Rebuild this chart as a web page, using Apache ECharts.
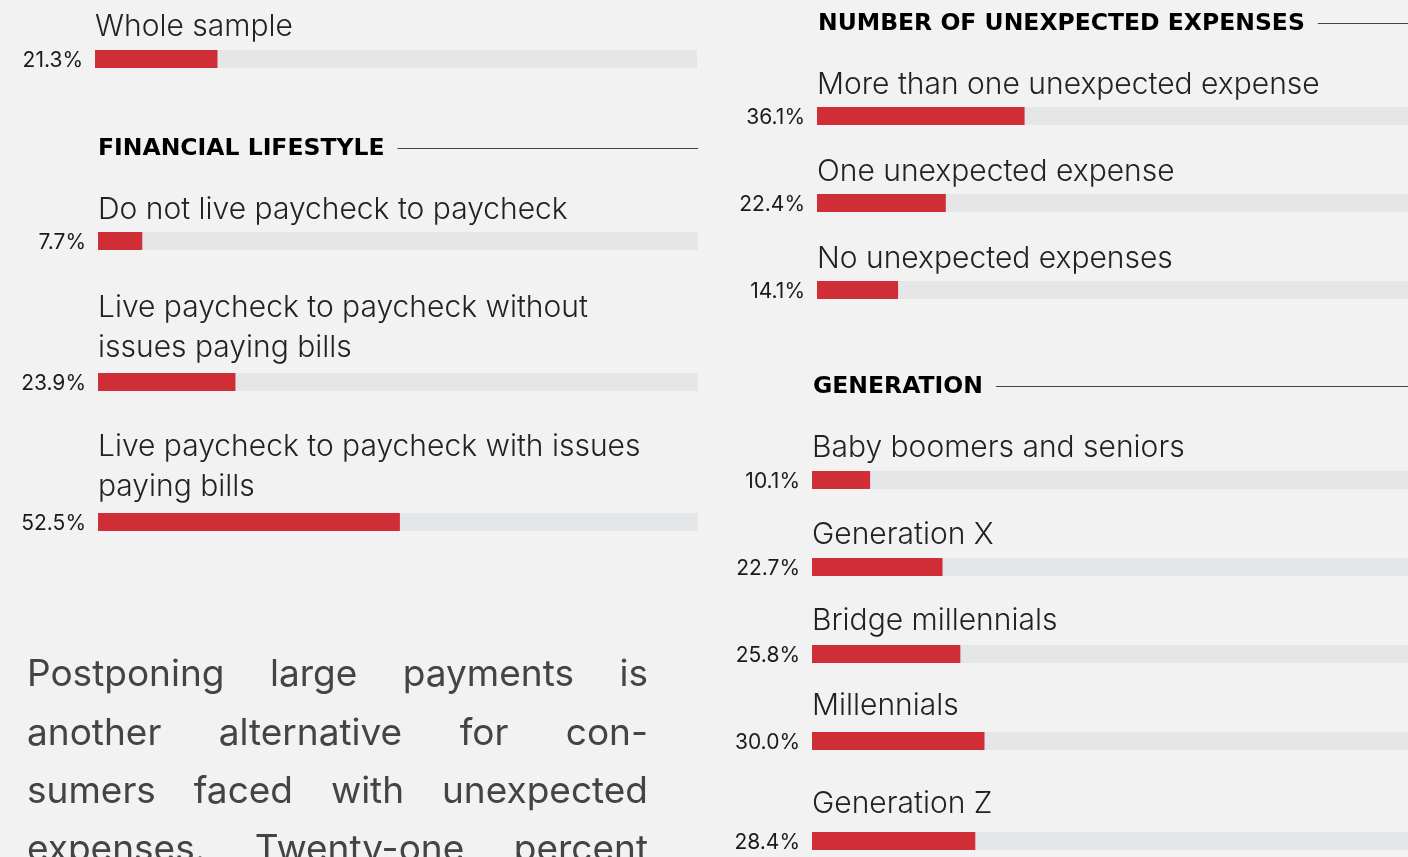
<!DOCTYPE html>
<html>
<head>
<meta charset="UTF-8">
<script src="https://cdn.jsdelivr.net/npm/echarts@6/dist/echarts.min.js"></script>
<style>
  html, body { margin: 0; padding: 0; background: #f2f2f2; }
  #main { width: 1408px; height: 857px; }
</style>
</head>
<body>
<div id="main"></div>
<script>
// data
var wholeNames = ['Whole sample'];
var wholeValues = [21.3];
var lifestyleNames = ['Do not live paycheck to paycheck',
  'Live paycheck to paycheck without\nissues paying bills',
  'Live paycheck to paycheck with issues\npaying bills'];
var lifestyleValues = [7.7, 23.9, 52.5];
var expenseNames = ['More than one unexpected expense', 'One unexpected expense', 'No unexpected expenses'];
var expenseValues = [36.1, 22.4, 14.1];
var generationNames = ['Baby boomers and seniors', 'Generation X', 'Bridge millennials', 'Millennials', 'Generation Z'];
var generationValues = [10.1, 22.7, 25.8, 30.0, 28.4];
var sectionTitles = ['FINANCIAL LIFESTYLE', 'NUMBER OF UNEXPECTED EXPENSES', 'GENERATION'];
var paragraphLines = ['Postponing large payments is', 'another alternative for con-',
  'sumers faced with unexpected', 'expenses. Twenty-one percent'];

var FONT = 'Inter, "Noto Sans", sans-serif';
var HEAD_FONT = '"DejaVu Sans", Inter, sans-serif';
var RED = '#cf2e36', TRACK = '#e5e6e8';
var PX_PER_PCT = 5.75;   // bar length of 1 %

// layout (positions only)
var sections = [
  {names: wholeNames, values: wholeValues, left: 95, right: 697, tops: [50], gaps: [14]},
  {names: lifestyleNames, values: lifestyleValues, left: 98, right: 698, tops: [232, 373, 513], gaps: [13, 16, 17]},
  {names: expenseNames, values: expenseValues, left: 817, right: 1430, tops: [107, 194, 281], gaps: [13, 13, 13]},
  {names: generationNames, values: generationValues, left: 812, right: 1430, tops: [471, 558, 645, 732, 832], gaps: [14, 14, 15, 17, 19]}
];

var grids = [], xAxes = [], yAxes = [], series = [];
sections.forEach(function (sec) {
  sec.values.forEach(function (v, i) {
    var k = grids.length;
    var w = sec.right - sec.left;
    grids.push({left: sec.left, top: sec.tops[i], width: w, height: 18, outerBoundsMode: 'none'});
    xAxes.push({type: 'value', gridIndex: k, min: 0, max: w / PX_PER_PCT, show: false});
    yAxes.push({
      type: 'category', gridIndex: k, data: [sec.names[i]],
      axisLine: {show: false}, axisTick: {show: false}, splitLine: {show: false},
      axisLabel: {
        inside: true, margin: 0, align: 'left', verticalAlign: 'bottom',
        fontFamily: FONT, fontWeight: 300, fontSize: 30, lineHeight: 40, color: '#222',
        padding: [0, 0, sec.gaps[i] - 2, 0]
      }
    });
    series.push({
      type: 'bar', xAxisIndex: k, yAxisIndex: k, data: [v], barWidth: 18,
      showBackground: true, backgroundStyle: {color: TRACK},
      itemStyle: {color: RED},
      label: {
        show: true, position: 'left', distance: 12, offset: [0, 2],
        fontFamily: FONT, fontSize: 21, color: '#1a1a1a',
        formatter: function (p) { return p.value.toFixed(1) + '%'; }
      },
      silent: true
    });
  });
});

// headers with rules
var ctx = document.createElement('canvas').getContext('2d');
var graphics = [];
var headers = [
  {x: 98, base: 156, end: 698},
  {x: 818, base: 31, end: 1408},
  {x: 813, base: 394, end: 1408}
];
headers.forEach(function (h, i) {
  ctx.font = 'bold 23.5px ' + HEAD_FONT;
  var tw = ctx.measureText(sectionTitles[i]).width;
  graphics.push({type: 'text', x: h.x, y: h.base - 6.8, silent: true,
    style: {text: sectionTitles[i], fontFamily: HEAD_FONT, fontWeight: 'bold', fontSize: 23.5, fill: '#000', verticalAlign: 'middle'}});
  graphics.push({type: 'line', silent: true,
    shape: {x1: h.x + tw + 13, y1: h.base - 7.5, x2: h.end, y2: h.base - 7.5},
    style: {stroke: '#444', lineWidth: 1}});
});

// justified paragraph
var PFS = 37, pLeft = 27, pRight = 648, pBase = [686, 745, 803, 861];
ctx.font = '400 ' + PFS + 'px ' + FONT;
paragraphLines.forEach(function (line, li) {
  var words = line.split(' ');
  var widths = words.map(function (w) { return ctx.measureText(w).width; });
  var total = widths.reduce(function (a, b) { return a + b; }, 0);
  var gap = (pRight - pLeft - total) / (words.length - 1);
  var x = pLeft;
  words.forEach(function (w, wi) {
    graphics.push({type: 'text', x: x, y: pBase[li] - 0.3 * PFS, silent: true,
      style: {text: w, fontFamily: FONT, fontSize: PFS, fill: '#444', verticalAlign: 'middle'}});
    x += widths[wi] + gap;
  });
});

var chart = echarts.init(document.getElementById('main'));
chart.setOption({
  backgroundColor: '#f2f2f2',
  animation: false,
  grid: grids,
  xAxis: xAxes,
  yAxis: yAxes,
  series: series,
  graphic: graphics
});
</script>
</body>
</html>
